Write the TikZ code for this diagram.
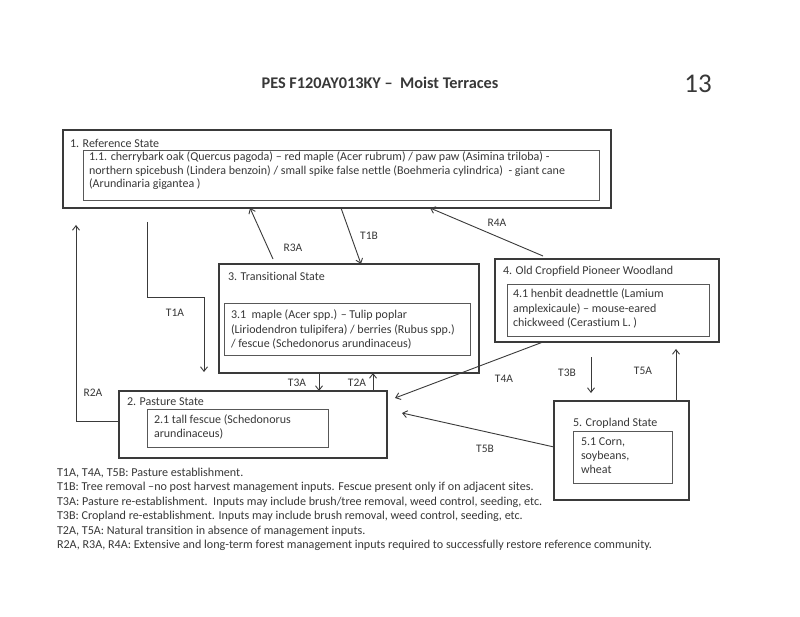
\documentclass[tikz,border=0pt]{standalone}
\usepackage{fontspec}
\setmainfont{Carlito}[Ligatures=NoCommon]
\usetikzlibrary{arrows.meta,calc}
\definecolor{ink}{HTML}{383838}
\definecolor{edge}{HTML}{3A3A3A}
\begin{document}
\begin{tikzpicture}[x=1pt,y=-1pt,
  every node/.style={text=ink, inner sep=0pt, outer sep=0pt, font=\fontsize{12}{14}\selectfont},
  box/.style={draw=edge, line width=1.3pt, anchor=north west},
  inbox/.style={draw=edge!85, line width=0.9pt, anchor=north west},
  para/.style={anchor=north west, align=left},
  head/.style={anchor=west},
  lbl/.style={font=\fontsize{11.5}{13}\selectfont},
  arr/.style={draw=edge, line width=0.9pt, -{Straight Barb[length=4.5pt,width=7pt]}},
  ln/.style={draw=edge, line width=0.9pt}]
\fill[white] (0,0) rectangle (800,617);
\useasboundingbox (0,0) rectangle (800,617);

% title
\node[font=\bfseries\fontsize{16.3}{18}\selectfont] (title) at (380,83) {PES F120AY013KY --\ \ Moist Terraces};
\node[font=\fontsize{27}{30}\selectfont] (num) at (698,84) {13};

% 1. Reference State
\node[box, minimum width=548pt, minimum height=78pt] (b1) at (63,130) {};
\node[inbox, minimum width=516pt, minimum height=50pt] (b1i) at (83,150) {};
\node[head] (h1) at (70,143) {1. Reference State};
\node[para, font=\fontsize{12}{13.5}\selectfont] (p1) at (89,152) {1.1. cherrybark oak (Quercus pagoda) -- red maple (Acer rubrum) / paw paw (Asimina triloba) -\\northern spicebush (Lindera benzoin) / small spike false nettle (Boehmeria cylindrica)\ \ - giant cane\\(Arundinaria gigantea )};

% 3. Transitional State
\node[box, minimum width=260pt, minimum height=109pt] (b3) at (219,264) {};
\node[inbox, minimum width=246pt, minimum height=52pt] (b3i) at (224,303) {};
\node[head] (h3) at (228,276) {3. Transitional State};
\node[para, font=\fontsize{12}{14.5}\selectfont] (p3) at (231,310) {3.1\ \ maple (Acer spp.) -- Tulip poplar\\(Liriodendron tulipifera) / berries (Rubus spp.)\\/ fescue (Schedonorus arundinaceus)};

% 4. Old Cropfield Pioneer Woodland
\node[box, minimum width=224pt, minimum height=83pt] (b4) at (495,259) {};
\node[inbox, minimum width=202pt, minimum height=52pt] (b4i) at (507,284) {};
\node[head] (h4) at (503,271) {4. Old Cropfield Pioneer Woodland};
\node[para, font=\fontsize{12}{14.5}\selectfont] (p4) at (513,289) {4.1 henbit deadnettle (Lamium\\amplexicaule) -- mouse-eared\\chickweed (Cerastium L. )};

% 2. Pasture State
\node[box, minimum width=268pt, minimum height=67pt] (b2) at (119,391) {};
\node[inbox, minimum width=181pt, minimum height=38pt] (b2i) at (147,409) {};
\node[head] (h2) at (127,402) {2. Pasture State};
\node[para, font=\fontsize{12}{14}\selectfont] (p2) at (154,415) {2.1 tall fescue (Schedonorus\\arundinaceus)};

% 5. Cropland State
\node[box, minimum width=135pt, minimum height=99pt] (b5) at (554,401) {};
\node[inbox, minimum width=99pt, minimum height=52pt] (b5i) at (573,431) {};
\node[head] (h5) at (573,423) {5. Cropland State};
\node[para, font=\fontsize{12}{14}\selectfont] (p5) at (581,438) {5.1 Corn,\\soybeans,\\wheat};

% free ends of connectors
\coordinate (t1as) at (147,222);
\coordinate (t1am) at (204,297);
\coordinate (t1ae) at (204,372);
\coordinate (r2y) at (0,421);
\coordinate (r2top) at (76,225);
\coordinate (r3s) at (273,259);
\coordinate (r3e) at (250,0);
\coordinate (t1bs) at (341,0);
\coordinate (t1be) at (361,0);
\coordinate (r4s) at (543,256);
\coordinate (r4e) at (430,0);
\coordinate (t3ax) at (319,0);
\coordinate (t2ax) at (373,0);
\coordinate (t4as) at (543,0);
\coordinate (t4ae) at (395,398);
\coordinate (t3bs) at (591,357);
\coordinate (t3be) at (591,393);
\coordinate (t5ax) at (676,0);
\coordinate (t5ae) at (676,349);
\coordinate (t5by) at (0,447);
\coordinate (t5be) at (402,413);

% connectors
\draw[arr] (t1as) |- (t1am) -- (t1ae);
\draw[arr] (b2.west |- r2y) -| (r2top);
\draw[arr] (r3s) -- (b1.south -| r3e);
\draw[arr] (b1.south -| t1bs) -- (b3.north -| t1be);
\draw[arr] (r4s) -- (b1.south -| r4e);
\draw[arr] (b3.south -| t3ax) -- (b2.north -| t3ax);
\draw[arr] (b2.north -| t2ax) -- (b3.south -| t2ax);
\draw[arr] (b4.south -| t4as) -- (t4ae);
\draw[arr] (t3bs) -- (t3be);
\draw[arr] (b5.north -| t5ax) -- (t5ae);
\draw[arr] (b5.west |- t5by) -- (t5be);

% connector labels
\node[lbl] (lt1a) at (175,313) {T1A};
\node[lbl] (lr2a) at (93,393) {R2A};
\node[lbl] (lr3a) at (293,248) {R3A};
\node[lbl] (lt1b) at (369,236) {T1B};
\node[lbl] (lr4a) at (497,223) {R4A};
\node[lbl] (lt3a) at (297,383) {T3A};
\node[lbl] (lt2a) at (357,383) {T2A};
\node[lbl] (lt4a) at (504,379) {T4A};
\node[lbl] (lt3b) at (567,373) {T3B};
\node[lbl] (lt5a) at (643,371) {T5A};
\node[lbl] (lt5b) at (485,449) {T5B};

% legend
\node[para, font=\fontsize{12.1}{14.4}\selectfont] (legend) at (57,468) {T1A, T4A, T5B: Pasture establishment.\\
T1B: Tree removal --no post harvest management inputs. Fescue present only if on adjacent sites.\\
T3A: Pasture re-establishment.\ \ Inputs may include brush/tree removal, weed control, seeding, etc.\\
T3B: Cropland re-establishment. Inputs may include brush removal, weed control, seeding, etc.\\
T2A, T5A: Natural transition in absence of management inputs.\\
R2A, R3A, R4A: Extensive and long-term forest management inputs required to successfully restore reference community.};
\end{tikzpicture}
\end{document}
